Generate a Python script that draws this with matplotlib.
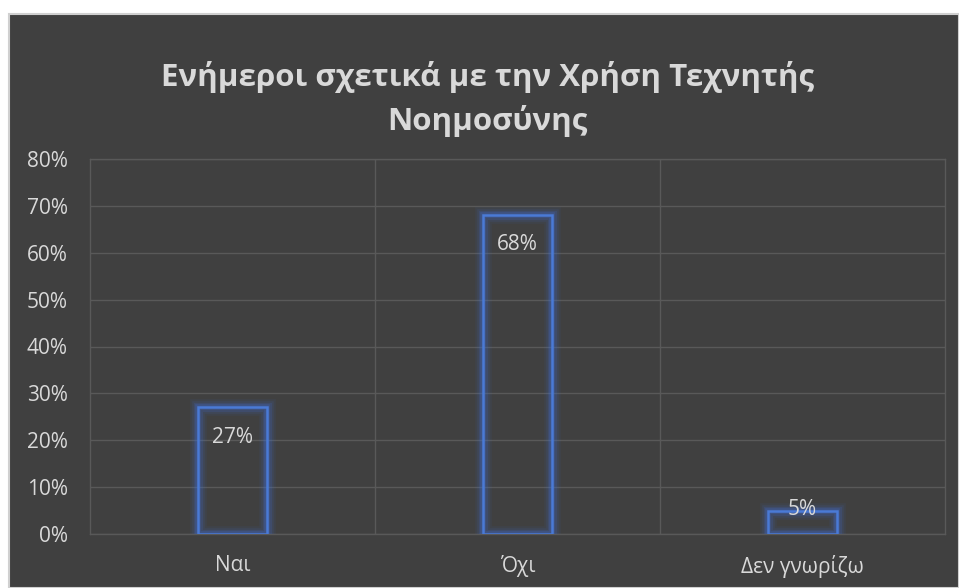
import matplotlib.pyplot as plt
from matplotlib.patches import Rectangle
from matplotlib.ticker import FixedLocator, PercentFormatter

categories = ['Ναι', 'Όχι', 'Δεν γνωρίζω']
values = [27, 68, 5]
yticks = [0, 10, 20, 30, 40, 50, 60, 70, 80]
title = 'Ενήμεροι σχετικά με την Χρήση Τεχνητής\nΝοημοσύνης'

bg = '#404040'
grid_col = '#595959'
text_col = '#d9d9d9'
edge_col = '#4472c4'

plt.rcParams['font.family'] = ['Open Sans', 'DejaVu Sans']

fig = plt.figure(figsize=(9.59, 5.88), dpi=100)
fig.patch.set_facecolor('white')
fig.patches.append(Rectangle((9 / 959, 0), 950 / 959, 574 / 588, transform=fig.transFigure,
                             facecolor=bg, edgecolor='#d0d0d0', linewidth=1.5, zorder=-5))

ax = fig.add_axes([90 / 959, 54 / 588, 855 / 959, 375 / 588])
ax.set_facecolor(bg)
ax.set_xlim(-0.5, 2.5)
ax.set_ylim(0, 80)

x = range(len(categories))
w = 0.245
# soft glow around each bar outline
for lw, a in [(12, 0.07), (9, 0.10), (6.5, 0.15), (4, 0.24)]:
    ax.bar(x, values, width=w, facecolor='none', edgecolor='#3f6fd8', linewidth=lw, alpha=a, zorder=3)
ax.bar(x, values, width=w, facecolor='none', edgecolor='#4a7ad6', linewidth=1.8, zorder=4)

for i, v in enumerate(values):
    if v > 10:
        ax.text(i, v - 4.1, f'{v}%', ha='center', va='top', color=text_col, fontsize=15, zorder=5)
    else:
        ax.text(i, v + 0.2, f'{v}%', ha='center', va='center', color=text_col, fontsize=15, zorder=5)

ax.set_yticks(yticks)
ax.yaxis.set_major_formatter(PercentFormatter(decimals=0))
ax.set_xticks(list(x))
ax.set_xticklabels(categories)
ax.xaxis.set_minor_locator(FixedLocator([0.5, 1.5]))
ax.tick_params(axis='both', which='both', length=0, colors=text_col, labelsize=15)
ax.tick_params(axis='x', pad=15)
ax.tick_params(axis='y', pad=16)

ax.grid(axis='y', which='major', color=grid_col, linewidth=1)
ax.grid(axis='x', which='minor', color=grid_col, linewidth=1)
ax.set_axisbelow(True)
for s in ax.spines.values():
    s.set_color(grid_col)
    s.set_linewidth(1)

fig.text(487 / 959, 1 - 99 / 588, title, ha='center', va='center', fontsize=22.5,
         fontweight='bold', color=text_col, linespacing=1.5)

fig.savefig('out.png', dpi=100)
